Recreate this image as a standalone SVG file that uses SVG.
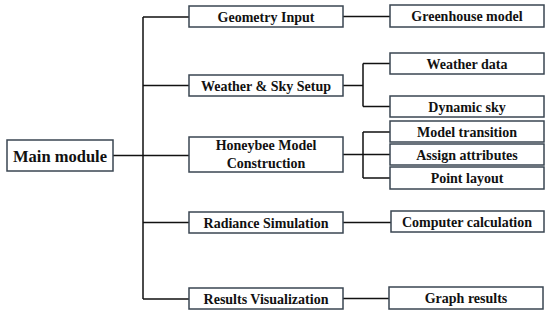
<svg xmlns="http://www.w3.org/2000/svg" width="550" height="316" viewBox="0 0 550 316">
<style>
.box{fill:#fff;stroke:#3a4652;stroke-width:1.5}
.t{font-family:"Liberation Serif","Times New Roman",serif;font-weight:bold;font-size:14px;fill:#111;text-anchor:middle}
.big{font-size:16.5px}
.c{fill:none;stroke:#111;stroke-width:1.5}
</style>
<rect width="550" height="316" fill="#fff"/>
<g id="connectors">
<path class="c" d="M113 155.5H189M143 17V299M143 17H189M143 85.5H189M143 222.5H189M143 299H189"/>
<path class="c" d="M343 16.5H390"/>
<path class="c" d="M343 85.5H363M363 63.5V106.5M363 63.5H390M363 106.5H390"/>
<path class="c" d="M343 154.5H390M363 132V178M363 132H390M363 178H390"/>
<path class="c" d="M343 222.5H391"/>
<path class="c" d="M343 298.5H389"/>
</g>
<g id="main"><rect class="box" x="7" y="140" width="106" height="31"/><text class="t big" x="60" y="161.5">Main module</text></g>
<g id="geometry"><rect class="box" x="189" y="6" width="154" height="21"/><text class="t" x="266" y="21.5">Geometry Input</text></g>
<g id="weather-sky"><rect class="box" x="189" y="75" width="154" height="21"/><text class="t" x="266" y="90.5">Weather &amp; Sky Setup</text></g>
<g id="honeybee"><rect class="box" x="189" y="137" width="154" height="35"/><text class="t" x="266" y="150">Honeybee Model</text><text class="t" x="266" y="167.5">Construction</text></g>
<g id="radiance"><rect class="box" x="189" y="212" width="154" height="21"/><text class="t" x="266" y="227.5">Radiance Simulation</text></g>
<g id="results"><rect class="box" x="189" y="288" width="154" height="21"/><text class="t" x="266" y="303.5">Results Visualization</text></g>
<g id="greenhouse"><rect class="box" x="390" y="5" width="154" height="22"/><text class="t" x="467" y="20.5">Greenhouse model</text></g>
<g id="weather-data"><rect class="box" x="390" y="53" width="154" height="21"/><text class="t" x="467" y="68.5">Weather data</text></g>
<g id="dynamic-sky"><rect class="box" x="390" y="96" width="154" height="21"/><text class="t" x="467" y="111.5">Dynamic sky</text></g>
<g id="model-transition"><rect class="box" x="390" y="121" width="154" height="21"/><text class="t" x="467" y="136.5">Model transition</text></g>
<g id="assign-attributes"><rect class="box" x="390" y="144" width="154" height="21"/><text class="t" x="467" y="159.5">Assign attributes</text></g>
<g id="point-layout"><rect class="box" x="390" y="167" width="154" height="22"/><text class="t" x="467" y="183">Point layout</text></g>
<g id="computer-calc"><rect class="box" x="391" y="211" width="153" height="21"/><text class="t" x="467" y="226.5">Computer calculation</text></g>
<g id="graph-results"><rect class="box" x="389" y="287" width="154" height="22"/><text class="t" x="466" y="302.5">Graph results</text></g>
</svg>
